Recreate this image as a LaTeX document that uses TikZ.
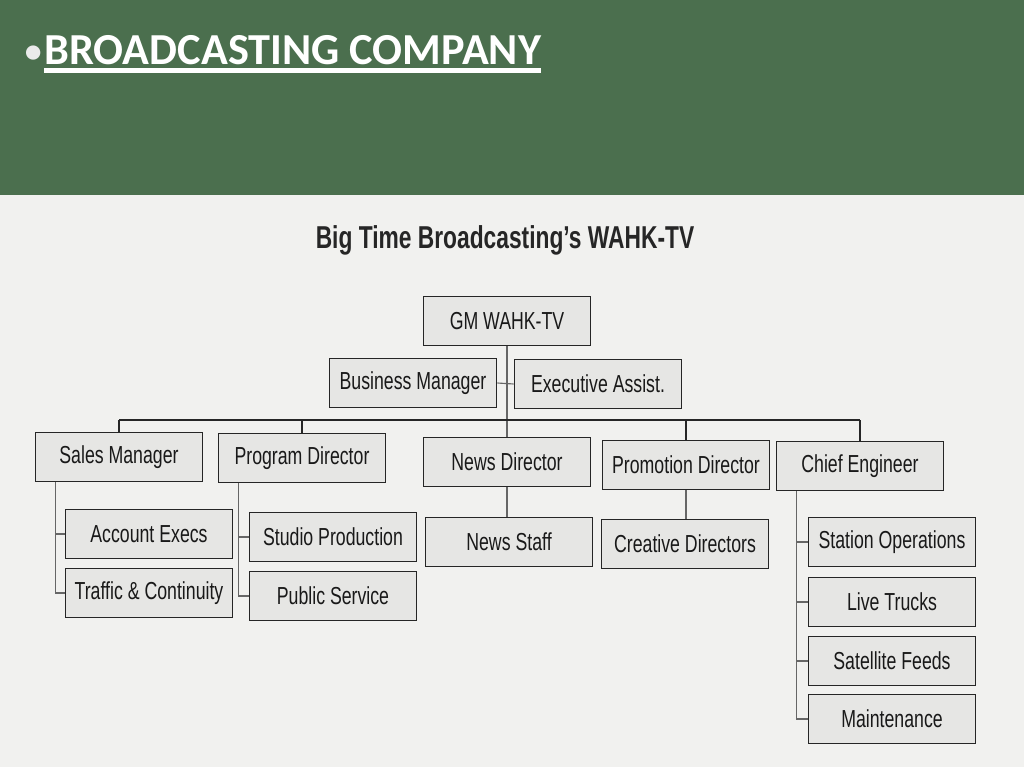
\documentclass[tikz,border=0pt]{standalone}
\usepackage{fontspec}
\setmainfont{Liberation Sans}
\newfontfamily\chartfont[FakeStretch=0.72]{Liberation Sans}
\newfontfamily\slidefont{Carlito}
\definecolor{slidegreen}{HTML}{4B6F4E}
\definecolor{paper}{HTML}{F1F1EF}
\definecolor{boxgray}{HTML}{E6E6E4}

\begin{document}
\begin{tikzpicture}[x=0.025cm,y=-0.025cm,
  post/.style={draw=black!85,line width=1.1pt,fill=boxgray,minimum width=4.18cm,
    minimum height=1.22cm,inner sep=0pt,text=black!90,
    font=\chartfont\fontsize{17.5}{20}\selectfont},
  link/.style={draw=black!60,line width=0.8pt},
  bus/.style={draw=black!85,line width=1.2pt}]
\useasboundingbox (0,0) rectangle (1024,767);
% slide background
\fill[slidegreen] (0,0) rectangle (1024,195);
\fill[paper] (0,195) rectangle (1024,767);
\node[anchor=base west,inner sep=0pt,text=white,
  font=\slidefont\bfseries\fontsize{31.5}{36}\selectfont] (head) at (44,65) {BROADCASTING COMPANY};
\node[anchor=base east,inner sep=0pt,xshift=-0.05cm,text=white!92!black,
  font=\slidefont\bfseries\fontsize{24}{28}\selectfont] (dot) at ([yshift=0.05cm]head.base west) {•};
\draw[white,line width=3.5pt] ([yshift=-0.14cm]head.base west) -- ([yshift=-0.14cm]head.base east);
% chart
\node[text=black!85,font=\chartfont\bfseries\fontsize{22.5}{26}\selectfont] (chart) at (505,240)
  {Big Time Broadcasting’s WAHK-TV};
\node[post] (gm) at (507,321) {GM WAHK-TV};
\node[post] (bm) at (413,383) {Business Manager};
\node[post] (ea) at (598,384) {Executive Assist.};

\node[post] (sm) at (119,457) {Sales Manager};
\node[post] (pd) at (302,458) {Program Director};
\node[post] (nd) at (507,462) {News Director};
\node[post] (prd) at (686,465) {Promotion Director};
\node[post] (ce) at (860,466) {Chief Engineer};

\node[post] (ae) at (149,534) {Account Execs};
\node[post] (tc) at (149,593) {Traffic \& Continuity};
\node[post] (sp) at (333,537) {Studio Production};
\node[post] (ps) at (333,596) {Public Service};
\node[post] (ns) at (509,542) {News Staff};
\node[post] (cd) at (685,544) {Creative Directors};
\node[post] (so) at (892,542) {Station Operations};
\node[post] (lt) at (892,602) {Live Trucks};
\node[post] (sf) at (892,661) {Satellite Feeds};
\node[post] (mt) at (892,719) {Maintenance};

% connectors
\coordinate (bus) at (0,420);
\draw[link] (gm.south) -- (nd.north);
\draw[link] (bm.east) -- (ea.west);
\draw[bus] (sm.north |- bus) -- (ce.north |- bus);
\foreach \n in {sm,pd,prd,ce}
  \draw[bus] (\n.north) -- (\n.north |- bus);
\draw[link] (nd.south) -- (ns.north -| nd.south);
\draw[link] (prd.south) -- (cd.north -| prd.south);
\foreach \p/\c in {sm/ae,sm/tc,pd/sp,pd/ps,ce/so,ce/lt,ce/sf,ce/mt}
  \draw[link] ([xshift=0.53cm]\p.south west) |- (\c.west);
\end{tikzpicture}
\end{document}
